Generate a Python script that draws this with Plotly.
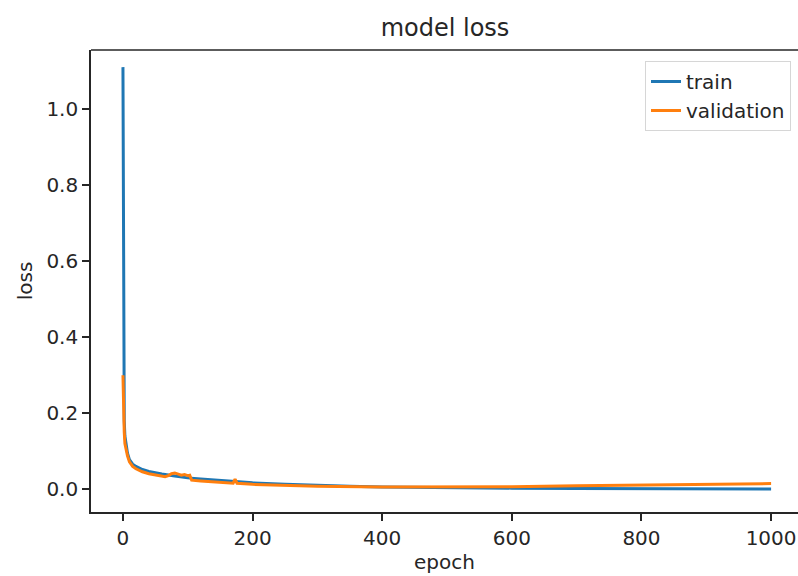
import plotly.graph_objects as go

# Training history: loss per epoch (sampled at the epochs listed)
epochs_train = [0, 1, 2, 3, 5, 7, 10, 15, 20, 30, 40, 50, 60, 80, 100, 120, 150,
                200, 250, 300, 350, 400, 500, 600, 700, 800, 900, 1000]
loss_train = [1.11, 0.29, 0.18, 0.14, 0.11, 0.095, 0.078, 0.066, 0.060, 0.052, 0.047,
              0.043, 0.040, 0.035, 0.030, 0.027, 0.023, 0.017, 0.013, 0.010, 0.008,
              0.006, 0.004, 0.003, 0.002, 0.0015, 0.001, 0.001]

epochs_val = [0, 1, 2, 3, 5, 7, 10, 15, 20, 30, 40, 50, 60, 65, 70, 75, 80, 85, 90,
              95, 100, 103, 106, 120, 150, 170, 173, 176, 200, 250, 300, 400, 500,
              600, 700, 800, 850, 900, 950, 1000]
loss_val = [0.30, 0.20, 0.15, 0.12, 0.10, 0.088, 0.072, 0.060, 0.054, 0.046, 0.041,
            0.037, 0.034, 0.033, 0.036, 0.041, 0.043, 0.041, 0.037, 0.039, 0.036,
            0.037, 0.024, 0.022, 0.018, 0.016, 0.027, 0.016, 0.013, 0.010, 0.008,
            0.006, 0.006, 0.007, 0.009, 0.011, 0.012, 0.013, 0.014, 0.015]

x_ticks = [0, 200, 400, 600, 800, 1000]
y_ticks = [0.0, 0.2, 0.4, 0.6, 0.8, 1.0]

font_family = "DejaVu Sans"
axis_color = "#262626"

fig = go.Figure()
fig.add_trace(go.Scatter(x=epochs_train, y=loss_train, mode="lines", name="train",
                         line=dict(color="#1f77b4", width=3)))
fig.add_trace(go.Scatter(x=epochs_val, y=loss_val, mode="lines", name="validation",
                         line=dict(color="#ff7f0e", width=3)))

W, H = 798, 576
ml, mt, mb = 91, 50, 64
plot_h = H - mt - mb

fig.update_layout(
    width=W, height=H,
    margin=dict(l=ml, r=0, t=mt, b=mb),
    paper_bgcolor="white", plot_bgcolor="white",
    font=dict(family=font_family, size=20, color="#262626"),
    title=dict(text="model loss", x=445 / W, xref="container", xanchor="center",
               y=1 - 28 / H, yref="container", yanchor="middle",
               font=dict(size=24, family=font_family, color="#262626")),
    legend=dict(x=(791 - ml) / (W - ml), y=(H - mb - 61) / plot_h,
                xanchor="right", yanchor="top",
                bgcolor="white", bordercolor="#d6d6d6", borderwidth=1,
                font=dict(size=20, family=font_family)),
    showlegend=True,
    # top edge of the axes frame
    shapes=[dict(type="line", xref="paper", yref="paper", x0=0, x1=1, y0=1, y1=1,
                 line=dict(color=axis_color, width=1.6))],
)

fig.update_xaxes(
    range=[-49.3, 1041.5], tickvals=x_ticks, ticktext=[str(v) for v in x_ticks],
    showgrid=False, zeroline=False, showline=True, linecolor=axis_color, linewidth=1.6,
    mirror=False, ticks="outside", ticklen=7, tickwidth=1.6, tickcolor=axis_color,
    title=dict(text="epoch", standoff=6, font=dict(size=20)),
)
fig.update_yaxes(
    range=[-0.0597, 1.155], tickvals=y_ticks, ticktext=[f"{v:.1f}" for v in y_ticks],
    showgrid=False, zeroline=False, showline=True, linecolor=axis_color, linewidth=1.6,
    mirror=False, ticks="outside", ticklen=7, tickwidth=1.6, tickcolor=axis_color,
    title=dict(text="loss", standoff=8, font=dict(size=20)),
)

fig.write_html("out.html")
